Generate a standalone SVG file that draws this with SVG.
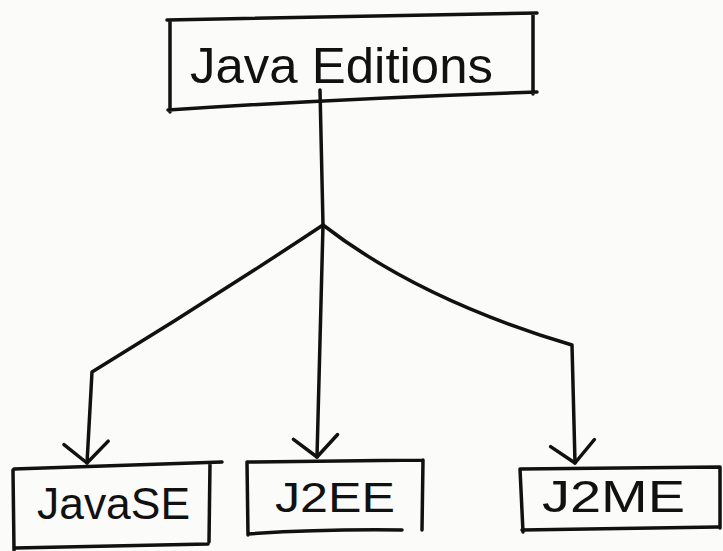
<svg xmlns="http://www.w3.org/2000/svg" width="723" height="551" viewBox="0 0 723 551">
<style>
.box{fill:none;stroke:#111;stroke-width:3.5;stroke-linecap:round;stroke-linejoin:round}
.lbl{font-family:"Liberation Sans",Arial,sans-serif;fill:#111}
.wire{fill:none;stroke:#111;stroke-width:3.5;stroke-linecap:round;stroke-linejoin:round}
</style>
<defs>
<marker id="chev" markerUnits="userSpaceOnUse" orient="auto" refX="0" refY="0" markerWidth="60" markerHeight="60" overflow="visible">
<path d="M-17,24 L0,0 L-23,-20" fill="none" stroke="#111" stroke-width="3.5" stroke-linecap="round" stroke-linejoin="round"/>
</marker>
</defs>
<rect width="723" height="551" fill="#fbfbfa"/>
<g id="connectors">
<path class="wire" d="M320,90 L323,225 L317,457" marker-end="url(#chev)"/>
<path class="wire" d="M323,225 Q210,300 92,372 L87,463" marker-end="url(#chev)"/>
<path class="wire" d="M323,225 Q420,300 572,345 L575,463" marker-end="url(#chev)"/>
</g>
<g id="node-java-editions">
<path class="box" d="M167,20 L537,13 M170,20 L170,112 M168,110 Q350,98 537,92 M533,14 L533,94"/>
<text class="lbl" x="190" y="83" font-size="50" textLength="303" lengthAdjust="spacingAndGlyphs">Java Editions</text>
</g>
<g id="node-javase">
<path class="box" d="M14,469 L222,462 M13,470 L14,550 M15,548 L208,544 M210,463 L209,542"/>
<text class="lbl" x="37" y="519" font-size="44" textLength="153" lengthAdjust="spacingAndGlyphs">JavaSE</text>
</g>
<g id="node-j2ee">
<path class="box" d="M247,462 L423,460 M247,462 L248,535 M248,534 Q320,529 402,530 M423,460 L422,530"/>
<text class="lbl" x="275" y="512" font-size="42" textLength="120" lengthAdjust="spacingAndGlyphs">J2EE</text>
</g>
<g id="node-j2me">
<path class="box" d="M520,469 L720,467 M520,469 L523,532 M522,530 L718,527 M720,467 L720,528"/>
<text class="lbl" x="542" y="512" font-size="44" textLength="143" lengthAdjust="spacingAndGlyphs">J2ME</text>
</g>
</svg>
